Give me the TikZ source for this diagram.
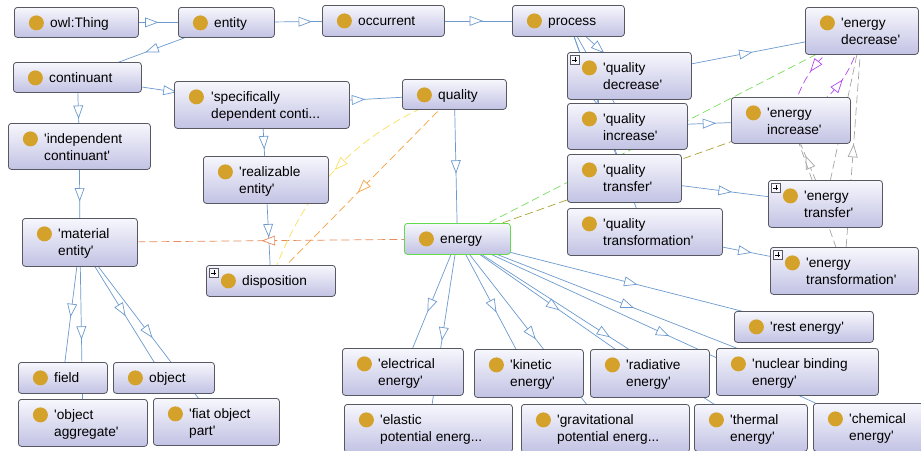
\documentclass[tikz,border=0pt]{standalone}
\usepackage{fontspec}
\setmainfont{Liberation Sans}[Ligatures=TeXOff]
\usetikzlibrary{arrows.meta,positioning,decorations.markings,backgrounds}

\definecolor{clstop}{RGB}{247,247,253}
\definecolor{clsbottom}{RGB}{194,194,228}
\definecolor{clsborder}{RGB}{88,88,98}
\definecolor{dotgold}{RGB}{212,162,42}
\definecolor{edgeblue}{RGB}{108,154,206}
\definecolor{selgreen}{RGB}{100,218,80}
\definecolor{matorange}{RGB}{232,140,92}
\definecolor{disporange}{RGB}{246,162,64}
\definecolor{dispyellow}{RGB}{250,224,92}
\definecolor{decgreen}{RGB}{122,222,92}
\definecolor{incolive}{RGB}{172,162,52}
\definecolor{oppurple}{RGB}{178,72,240}
\definecolor{partgrey}{RGB}{165,165,165}

\begin{document}
\begin{tikzpicture}[
    x=1pt, y=-1pt,
    every node/.style={font=\fontsize{13.7}{17}\selectfont},
    cls/.style={draw=clsborder, line width=0.8pt, rounded corners=3pt, anchor=north west,
        inner sep=0pt, top color=clstop, bottom color=clsbottom,
        path picture={\fill[dotgold] ([shift={(22,15.5)}]path picture bounding box.north west) circle (7.5pt);}},
    clsplus/.style={cls,
        path picture={\fill[dotgold] ([shift={(22,15.5)}]path picture bounding box.north west) circle (7.5pt);
            \draw[clsborder, fill=clstop, rounded corners=0pt, line width=0.5pt] ([shift={(3,3)}]path picture bounding box.north west) rectangle ++(9,9);
            \draw[black, line width=0.8pt] ([shift={(5,7.5)}]path picture bounding box.north west) -- ++(5,0)
                ([shift={(7.5,5)}]path picture bounding box.north west) -- ++(0,5);}},
    lbl/.style={anchor=base west, inner sep=0pt, align=left},
    isa/.style={draw=edgeblue, line width=0.7pt, postaction={decorate},
        decoration={markings, mark=at position 0.5 with {\draw[edgeblue, fill=white, solid] (6,0) -- (-6,4.5) -- (-6,-4.5) -- cycle;}}},
    rel/.style={draw=#1, line width=0.7pt, dash pattern=on 8pt off 4pt, postaction={decorate},
        decoration={markings, mark=at position 0.5 with {\draw[#1, fill=white, solid] (6,0) -- (-6,4.5) -- (-6,-4.5) -- cycle;}}}
]
\useasboundingbox (0,0) rectangle (921,450);

% classes, top rows
\node[cls, minimum width=124, minimum height=30] (thing) at (14,7) {};
\node[lbl] (thing-t) at ([shift={(36,20.5)}]thing.north west) {owl:Thing};
\node[cls, minimum width=96, minimum height=30] (entity) at (178,7) {};
\node[lbl] (entity-t) at ([shift={(36,20.5)}]entity.north west) {entity};
\node[cls, minimum width=122, minimum height=31] (occurrent) at (322,5) {};
\node[lbl] (occurrent-t) at ([shift={(36,20.5)}]occurrent.north west) {occurrent};
\node[cls, minimum width=112, minimum height=31] (process) at (512,5) {};
\node[lbl] (process-t) at ([shift={(36,20.5)}]process.north west) {process};
\node[cls, minimum width=128, minimum height=30] (continuant) at (13,62) {};
\node[lbl] (continuant-t) at ([shift={(36,20.5)}]continuant.north west) {continuant};
\node[cls, minimum width=175, minimum height=47] (sdc) at (174,81) {};
\node[lbl] (sdc-t) at ([shift={(37,37.5)}]sdc.north west) {'specifically\\dependent conti...};
\node[cls, minimum width=104, minimum height=30] (quality) at (402,79) {};
\node[lbl] (quality-t) at ([shift={(36,20.5)}]quality.north west) {quality};
\node[cls, minimum width=142, minimum height=46] (indep) at (8,123) {};
\node[lbl] (indep-t) at ([shift={(36,37.5)}]indep.north west) {'independent\\continuant'};
\node[cls, minimum width=125, minimum height=47] (realizable) at (203,156) {};
\node[lbl] (realizable-t) at ([shift={(36,37.5)}]realizable.north west) {'realizable\\entity'};
\node[cls, minimum width=115, minimum height=48] (material) at (22,218) {};
\node[lbl] (material-t) at ([shift={(36,37.5)}]material.north west) {'material\\entity'};
\node[clsplus, minimum width=129, minimum height=31] (disposition) at (206,265) {};
\node[lbl] (disposition-t) at ([shift={(36,20.5)}]disposition.north west) {disposition};
\node[cls, draw=selgreen, minimum width=106, minimum height=31] (energy) at (404,223) {};
\node[lbl] (energy-t) at ([shift={(36,20.5)}]energy.north west) {energy};

% processes
\node[clsplus, minimum width=124, minimum height=47] (qdec) at (567,52) {};
\node[lbl] (qdec-t) at ([shift={(36,37.5)}]qdec.north west) {'quality\\decrease'};
\node[cls, minimum width=120, minimum height=46] (qinc) at (567,103) {};
\node[lbl] (qinc-t) at ([shift={(36,37.5)}]qinc.north west) {'quality\\increase'};
\node[cls, minimum width=114, minimum height=48] (qtrans) at (567,154) {};
\node[lbl] (qtrans-t) at ([shift={(36,37.5)}]qtrans.north west) {'quality\\transfer'};
\node[cls, minimum width=155, minimum height=47] (qtransf) at (567,208) {};
\node[lbl] (qtransf-t) at ([shift={(36,37.5)}]qtransf.north west) {'quality\\transformation'};
\node[cls, minimum width=113, minimum height=47] (edec) at (805,7) {};
\node[lbl] (edec-t) at ([shift={(36,37.5)}]edec.north west) {'energy\\decrease'};
\node[cls, minimum width=119, minimum height=46] (einc) at (731,97) {};
\node[lbl] (einc-t) at ([shift={(36,37.5)}]einc.north west) {'energy\\increase'};
\node[clsplus, minimum width=114, minimum height=47] (etrans) at (768,180) {};
\node[lbl] (etrans-t) at ([shift={(36,37.5)}]etrans.north west) {'energy\\transfer'};
\node[clsplus, minimum width=148, minimum height=47] (etransf) at (770,247) {};
\node[lbl] (etransf-t) at ([shift={(36,37.5)}]etransf.north west) {'energy\\transformation'};

% material entities
\node[cls, minimum width=89, minimum height=31] (field) at (18,362) {};
\node[lbl] (field-t) at ([shift={(36,20.5)}]field.north west) {field};
\node[cls, minimum width=101, minimum height=31] (object) at (113,362) {};
\node[lbl] (object-t) at ([shift={(36,20.5)}]object.north west) {object};
\node[cls, minimum width=129, minimum height=47] (objagg) at (18,399) {};
\node[lbl] (objagg-t) at ([shift={(36,37.5)}]objagg.north west) {'object\\aggregate'};
\node[cls, minimum width=126, minimum height=47] (fiat) at (153,398) {};
\node[lbl] (fiat-t) at ([shift={(36,37.5)}]fiat.north west) {'fiat object\\part'};

% kinds of energy
\node[cls, minimum width=139, minimum height=31] (rest) at (734,311) {};
\node[lbl] (rest-t) at ([shift={(36,20.5)}]rest.north west) {'rest energy'};
\node[cls, minimum width=162, minimum height=47] (nuclear) at (716,348) {};
\node[lbl] (nuclear-t) at ([shift={(36,37.5)}]nuclear.north west) {'nuclear binding\\energy'};
\node[cls, minimum width=121, minimum height=47] (electrical) at (342,348) {};
\node[lbl] (electrical-t) at ([shift={(36,37.5)}]electrical.north west) {'electrical\\energy'};
\node[cls, minimum width=109, minimum height=48] (kinetic) at (474,349) {};
\node[lbl] (kinetic-t) at ([shift={(36,37.5)}]kinetic.north west) {'kinetic\\energy'};
\node[cls, minimum width=119, minimum height=48] (radiative) at (590,349) {};
\node[lbl] (radiative-t) at ([shift={(36,37.5)}]radiative.north west) {'radiative\\energy'};
\node[cls, minimum width=168, minimum height=48] (elastic) at (344,404) {};
\node[lbl] (elastic-t) at ([shift={(36,37.5)}]elastic.north west) {'elastic\\potential energ...};
\node[cls, minimum width=168, minimum height=48] (grav) at (521,404) {};
\node[lbl] (grav-t) at ([shift={(36,37.5)}]grav.north west) {'gravitational\\potential energ...};
\node[cls, minimum width=113, minimum height=47] (thermal) at (694,404) {};
\node[lbl] (thermal-t) at ([shift={(36,37.5)}]thermal.north west) {'thermal\\energy'};
\node[cls, minimum width=110, minimum height=48] (chemical) at (813,403) {};
\node[lbl] (chemical-t) at ([shift={(36,37.5)}]chemical.north west) {'chemical\\energy'};

\begin{scope}[on background layer]
\fill[white] (0,0) rectangle (921,450);
% subclass edges
\draw[isa] (thing.center) -- (entity.center);
\draw[isa] (entity.center) -- (occurrent.center);
\draw[isa] (occurrent.center) -- (process.center);
\draw[isa] (entity.center) -- (continuant.center);
\draw[isa] (continuant.center) -- (sdc.center);
\draw[isa] (continuant.center) -- (indep.center);
\draw[isa] (sdc.center) -- (quality.center);
\draw[isa] (sdc.center) -- (realizable.center);
\draw[isa] (realizable.center) -- (disposition.center);
\draw[isa] (indep.center) -- (material.center);
\draw[isa] (material.center) -- (field.center);
\draw[isa] (material.center) -- (objagg.center);
\draw[isa] (material.center) -- (object.center);
\draw[isa] (material.center) -- (fiat.center);
\draw[isa] (quality.center) -- (energy.center);
\draw[isa] (process.center) -- (qdec.center);
\draw[isa] (process.center) -- (qinc.center);
\draw[isa] (process.center) -- (qtrans.center);
\draw[isa] (process.center) -- (qtransf.center);
\draw[isa] (qdec.center) -- (edec.center);
\draw[isa] (qinc.center) -- (einc.center);
\draw[isa] (qtrans.center) -- (etrans.center);
\draw[isa] (qtransf.center) -- (etransf.center);
\draw[isa] (energy.center) -- (electrical.center);
\draw[isa] (energy.center) -- (elastic.center);
\draw[isa] (energy.center) -- (kinetic.center);
\draw[isa] (energy.center) -- (grav.center);
\draw[isa] (energy.center) -- (radiative.center);
\draw[isa] (energy.center) -- (thermal.center);
\draw[isa] (energy.center) -- (nuclear.center);
\draw[isa] (energy.center) -- (chemical.center);
\draw[isa] (energy.center) -- (rest.center);
% other relations
\draw[rel=matorange] (energy.center) -- (material.center);
\draw[rel=disporange] (quality.center) -- (disposition.center);
\draw[rel=dispyellow] (quality.center) to[bend right=25] (disposition.center);
\draw[rel=decgreen] (energy.center) -- (edec.center);
\draw[rel=incolive] (energy.center) -- (einc.center);
\draw[rel=oppurple] (einc.center) to[bend right=27] (edec.center);
\draw[rel=oppurple] (edec.center) to[bend right=27] (einc.center);
\draw[rel=partgrey] (etrans.center) -- (einc.center);
\draw[rel=partgrey] (etrans.center) -- (edec.center);
\draw[rel=partgrey] (etransf.center) -- (einc.center);
\draw[rel=partgrey] (etransf.center) -- (edec.center);
\end{scope}
\end{tikzpicture}
\end{document}
